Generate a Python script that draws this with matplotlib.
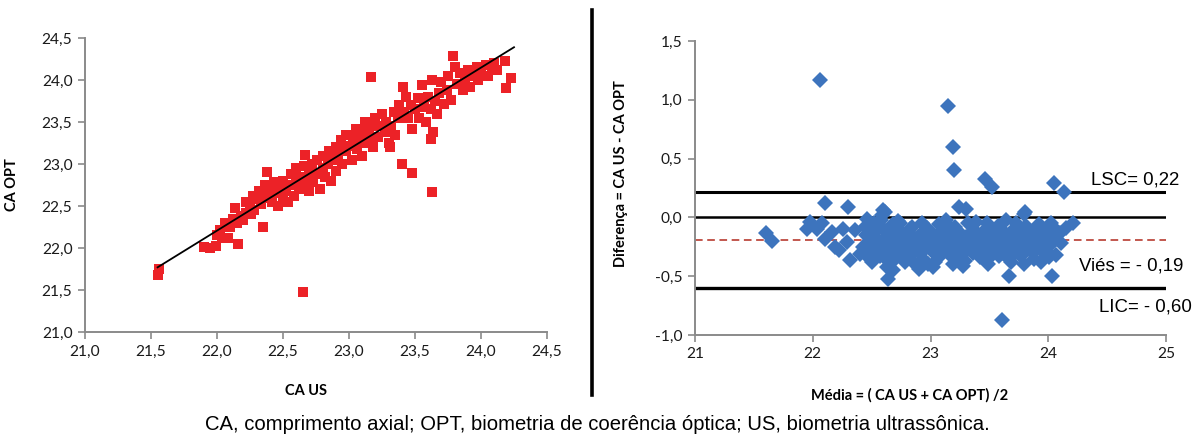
import matplotlib
matplotlib.use("Agg")
import matplotlib.pyplot as plt
from matplotlib.lines import Line2D

# ---------------- data: left panel (CA US vs CA OPT) ----------------
us = [21.55, 21.56, 22.65,
      21.90, 21.95, 21.99, 22.00, 22.02, 22.04, 22.06, 22.08, 22.10, 22.12, 22.14, 22.15,
      22.18, 22.20, 22.22, 22.16, 22.35,
      22.22, 22.25, 22.27, 22.28, 22.30, 22.32, 22.33, 22.35, 22.36, 22.38, 22.40, 22.42,
      22.43, 22.45, 22.46, 22.48, 22.50, 22.50, 22.52, 22.54, 22.26, 22.38,
      22.55, 22.56, 22.58, 22.60, 22.60, 22.62, 22.63, 22.65, 22.66, 22.68, 22.70, 22.70,
      22.72, 22.73, 22.75, 22.76, 22.78, 22.80, 22.80, 22.82, 22.84, 22.85, 22.86, 22.88,
      22.90, 22.90, 22.67,
      22.92, 22.94, 22.95, 22.97, 22.98, 23.00, 23.02, 23.03, 23.05, 23.06, 23.08, 23.10,
      23.10, 23.12, 23.13, 23.15, 23.17, 23.18, 23.20, 23.22, 23.24, 23.25, 23.27, 23.28,
      23.30, 23.17, 23.16, 23.31, 22.98,
      23.32, 23.34, 23.35, 23.37, 23.38, 23.41, 23.42, 23.43, 23.45, 23.47, 23.48, 23.50,
      23.52, 23.53, 23.55, 23.57, 23.58, 23.60, 23.62, 23.63, 23.65, 23.67, 23.68, 23.70,
      23.72,
      23.74, 23.75, 23.77, 23.79, 23.80, 23.82, 23.84, 23.86, 23.88, 23.90, 23.92, 23.94,
      23.97, 23.98, 24.00, 24.04, 24.05, 24.08, 24.10, 24.12, 24.18, 24.23, 24.19,
      23.40, 23.48, 23.63, 23.64, 23.62]
opt = [21.68, 21.75, 21.48,
       22.01, 22.00, 22.02, 22.15, 22.22, 22.12, 22.30, 22.12, 22.25, 22.35, 22.48, 22.30,
       22.38, 22.33, 22.42, 22.05, 22.25,
       22.55, 22.50, 22.62, 22.45, 22.58, 22.68, 22.52, 22.65, 22.75, 22.60, 22.70, 22.55,
       22.78, 22.66, 22.50, 22.72, 22.62, 22.80, 22.68, 22.55, 22.40, 22.90,
       22.75, 22.88, 22.62, 22.80, 22.95, 22.70, 22.85, 22.75, 22.98, 22.82, 22.68, 22.90,
       23.00, 22.78, 22.88, 23.05, 22.70, 22.95, 23.10, 22.85, 23.00, 23.15, 22.80, 23.05,
       22.92, 23.20, 23.11,
       23.10, 23.28, 23.00, 23.15, 23.35, 23.22, 23.05, 23.30, 23.42, 23.18, 23.28, 23.38,
       23.10, 23.50, 23.25, 23.35, 23.45, 23.20, 23.55, 23.32, 23.45, 23.60, 23.38, 23.50,
       23.25, 24.04, 23.25, 23.20, 23.17,
       23.45, 23.62, 23.35, 23.55, 23.70, 23.92, 23.62, 23.80, 23.55, 23.70, 23.42, 23.65,
       23.78, 23.55, 23.94, 23.68, 23.50, 23.80, 23.65, 24.00, 23.75, 23.60, 23.85, 23.98,
       23.72,
       23.88, 24.05, 23.76, 24.28, 24.16, 23.95, 24.08, 23.88, 24.00, 24.12, 23.92, 24.05,
       24.16, 24.00, 24.10, 24.18, 24.05, 24.15, 24.20, 24.12, 24.23, 24.02, 23.90,
       23.00, 22.89, 22.67, 23.38, 23.30]
trend_x = [21.55, 24.25]
trend_y = [21.77, 24.39]
left_ticks = [21.0, 21.5, 22.0, 22.5, 23.0, 23.5, 24.0, 24.5]

# ---------------- data: right panel (Bland-Altman) ----------------
media = [22.06, 23.15, 23.19, 23.20, 23.46, 23.52, 24.05, 24.13, 23.24, 23.30,
         22.10, 22.30, 22.61, 23.61, 21.60, 21.65, 22.64, 22.32, 24.03, 23.67,
         22.90, 24.21, 23.79, 23.80,
         21.95, 21.98, 22.04, 22.08, 22.10, 22.16, 22.19, 22.22, 22.26, 22.29, 22.36,
         22.40, 22.43, 22.46, 22.49, 22.60, 22.63, 23.02,
         22.45, 22.47, 22.48, 22.44, 22.51, 22.52, 22.53, 22.50,
         22.55, 22.56, 22.57, 22.54, 22.60, 22.61, 22.62, 22.59,
         22.66, 22.65, 22.67, 22.68, 22.70, 22.71, 22.72, 22.69,
         22.75, 22.76, 22.77, 22.74, 22.80, 22.81, 22.82, 22.79,
         22.85, 22.86, 22.84, 22.87, 22.90, 22.91, 22.92,
         22.95, 22.96, 22.97, 22.94, 23.00, 23.01, 23.03,
         23.05, 23.06, 23.07, 23.04, 23.10, 23.11, 23.12,
         23.15, 23.16, 23.17, 23.20, 23.21, 23.22, 23.19,
         23.25, 23.26, 23.27, 23.30, 23.31, 23.32, 23.29,
         23.35, 23.36, 23.37, 23.40, 23.41, 23.42, 23.39,
         23.45, 23.46, 23.47, 23.50, 23.51, 23.52, 23.49,
         23.55, 23.56, 23.57, 23.60, 23.61, 23.62,
         23.65, 23.66, 23.67, 23.64, 23.70, 23.71, 23.72,
         23.75, 23.76, 23.77, 23.80, 23.81, 23.82, 23.79,
         23.85, 23.86, 23.87, 23.90, 23.91, 23.92,
         23.95, 23.96, 23.97, 23.94, 24.00, 24.01, 24.02,
         24.05, 24.06, 24.07, 24.10, 24.11, 24.15, 24.01,
         22.58, 22.72, 22.88, 22.93, 23.08, 23.13, 23.23, 23.33, 23.38, 23.43,
         23.48, 23.53, 23.58, 23.63, 23.68, 23.73, 23.78, 23.83, 23.88, 23.93,
         23.98, 24.03, 22.83, 22.78, 22.98, 23.18, 23.28, 22.62, 22.52, 22.68]
dif = [1.17, 0.95, 0.60, 0.40, 0.33, 0.26, 0.29, 0.22, 0.09, 0.07,
       0.12, 0.09, 0.05, -0.87, -0.13, -0.20, -0.52, -0.36, -0.50, -0.50,
       -0.44, -0.05, 0.03, 0.05,
       -0.10, -0.04, -0.10, -0.05, -0.18, -0.12, -0.25, -0.28, -0.10, -0.21, -0.11,
       -0.31, -0.25, -0.01, -0.35, 0.06, -0.42, -0.42,
       -0.15, -0.22, -0.30, -0.08, -0.18, -0.27, -0.12, -0.38,
       -0.05, -0.20, -0.33, -0.24, -0.10, -0.28, -0.17, 0.02,
       -0.22, -0.14, -0.32, -0.06, -0.19, -0.26, -0.10, -0.36,
       -0.15, -0.30, -0.22, -0.05, -0.20, -0.12, -0.34, -0.27,
       -0.17, -0.24, -0.08, -0.40, -0.21, -0.30, -0.14,
       -0.18, -0.26, -0.09, -0.35, -0.22, -0.13, -0.30,
       -0.16, -0.25, -0.06, -0.38, -0.20, -0.28, -0.12,
       -0.24, -0.15, -0.33, -0.18, -0.08, -0.28, -0.40,
       -0.22, -0.14, -0.32, -0.17, -0.26, -0.05, -0.37,
       -0.20, -0.30, -0.11, -0.15, -0.24, -0.34, -0.04,
       -0.19, -0.28, -0.10, -0.22, -0.13, -0.32, -0.40,
       -0.17, -0.26, -0.07, -0.21, -0.30, -0.12,
       -0.16, -0.25, -0.35, -0.02, -0.20, -0.10, -0.29,
       -0.23, -0.14, -0.33, -0.18, -0.07, -0.27, -0.40,
       -0.21, -0.12, -0.30, -0.16, -0.25, -0.06,
       -0.19, -0.30, -0.11, -0.38, -0.15, -0.24, -0.05,
       -0.20, -0.10, -0.32, -0.13, -0.22, -0.09, -0.34,
       -0.02, -0.03, -0.28, -0.05, -0.33, -0.02, -0.35, -0.25, -0.18, -0.29,
       -0.05, -0.25, -0.33, -0.14, -0.38, -0.05, -0.30, -0.20, -0.35, -0.22,
       -0.28, -0.14, -0.10, -0.38, -0.40, -0.10, -0.41, -0.35, -0.05, -0.45]
lsc, vies, lic = 0.22, -0.19, -0.60
right_yticks = [-1.0, -0.5, 0.0, 0.5, 1.0, 1.5]
right_xticks = [21, 22, 23, 24, 25]

# ---------------- drawing ----------------
TICKFONT = "Lato"
ARIAL = "Liberation Sans"
GREY = "#8a8a8a"

fig = plt.figure(figsize=(11.95, 4.37), dpi=100)
fig.patch.set_facecolor("white")


def comma(v, nd=1):
    return f"{v:.{nd}f}".replace(".", ",")


def style_axes(ax):
    for s in ["top", "right"]:
        ax.spines[s].set_visible(False)
    for s in ["left", "bottom"]:
        ax.spines[s].set_color(GREY)
        ax.spines[s].set_linewidth(1.4)
    ax.tick_params(direction="out", length=5, width=1.2, color=GREY,
                   labelsize=11.2, pad=4)
    for lbl in ax.get_xticklabels() + ax.get_yticklabels():
        lbl.set_fontfamily(TICKFONT)
        lbl.set_color("#1a1a1a")


# Left panel
ax1 = fig.add_axes([85 / 1195, 1 - 332 / 437, 462 / 1195, 294 / 437])
ax1.plot(us, opt, linestyle="none", marker="s", markersize=7.8,
         color="#ec2227", markeredgewidth=0)
ax1.plot(trend_x, trend_y, color="black", linewidth=1.3)
ax1.set_xlim(21.0, 24.5)
ax1.set_ylim(21.0, 24.5)
ax1.set_xticks(left_ticks)
ax1.set_yticks(left_ticks)
ax1.set_xticklabels([comma(v) for v in left_ticks])
ax1.set_yticklabels([comma(v) for v in left_ticks])
style_axes(ax1)
ax1.set_xlabel("CA US", fontfamily=TICKFONT, fontweight="bold", fontsize=10.5)
ax1.xaxis.set_label_coords((306 - 85) / 462, -(384 - 332) / 294)
ax1.set_ylabel("CA OPT", fontfamily=TICKFONT, fontweight="bold", fontsize=10.5)
ax1.yaxis.set_label_coords(-(85 - 19) / 462, 0.5)

# Right panel
ax2 = fig.add_axes([695 / 1195, 1 - 335 / 437, 471 / 1195, 294 / 437])
for yv, lw in [(lsc, 2.2), (0.0, 1.8), (lic, 2.4)]:
    ax2.axhline(yv, color="black", linewidth=lw, zorder=1)
ax2.axhline(vies, color="#b22a1e", linewidth=1.1, dashes=(5, 3), zorder=1)
ax2.plot(media, dif, linestyle="none", marker="D", markersize=7.8,
         color="#3d74bd", markeredgewidth=0, zorder=3)
ax2.set_xlim(21, 25)
ax2.set_ylim(-1.0, 1.5)
ax2.set_xticks(right_xticks)
ax2.set_yticks(right_yticks)
ax2.set_xticklabels([str(v) for v in right_xticks])
ax2.set_yticklabels([comma(v) for v in right_yticks])
style_axes(ax2)
ax2.set_xlabel("Média = ( CA US + CA OPT) /2", fontfamily=TICKFONT,
               fontweight="bold", fontsize=10.5)
ax2.xaxis.set_label_coords((910 - 695) / 471, -(388 - 335) / 294)
ax2.set_ylabel("Diferença = CA US - CA OPT", fontfamily=TICKFONT,
               fontweight="bold", fontsize=10.5)
ax2.yaxis.set_label_coords(-(695 - 628) / 471, 0.55)

ax2.text(24.36, 0.32, "LSC= " + comma(lsc, 2), fontfamily=ARIAL, fontsize=13.4,
         ha="left", va="center", clip_on=False)
ax2.text(24.26, -0.41, "Viés = - " + comma(abs(vies), 2), fontfamily=ARIAL,
         fontsize=13.4, ha="left", va="center", clip_on=False)
ax2.text(24.43, -0.76, "LIC= - " + comma(abs(lic), 2), fontfamily=ARIAL,
         fontsize=13.4, ha="left", va="center", clip_on=False)

# vertical divider
fig.add_artist(Line2D([592 / 1195, 592 / 1195], [1 - 10 / 437, 1 - 395 / 437],
                      color="black", linewidth=2.6))

# caption
fig.text(597 / 1195, 1 - 424 / 437,
         "CA, comprimento axial; OPT, biometria de coerência óptica; US, biometria ultrassônica.",
         fontfamily=ARIAL, fontsize=14.6, ha="center", va="center")

fig.savefig("out.png", dpi=100, facecolor="white")
